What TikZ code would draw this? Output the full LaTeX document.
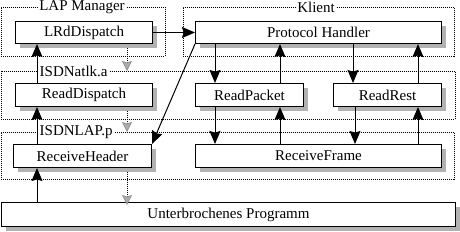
\documentclass[tikz,border=0pt]{standalone}
\usepackage{fontspec}
\setmainfont{Liberation Serif}
\newfontfamily\diagfont{Liberation Serif}
\usetikzlibrary{arrows.meta,shadows}
\begin{document}
\begin{tikzpicture}[x=1pt,y=-1pt,
  every node/.style={font=\diagfont\fontsize{15}{15}\selectfont},
  box/.style={draw,line width=1pt,fill=white,inner sep=0pt,anchor=north west,
    general shadow={fill=gray!60,shadow xshift=4pt,shadow yshift=-4pt}},
  grp/.style={draw,dash pattern=on 1pt off 1pt,line width=0.8pt,inner sep=0pt,anchor=north west},
  glabel/.style={fill=white,inner sep=1.5pt},
  arr/.style={line width=1pt,-{Stealth[length=13pt,width=11pt,inset=1.5pt]}},
  darr/.style={line width=0.8pt,dash pattern=on 1pt off 1pt,-{Stealth[length=10pt,width=10pt,inset=1.5pt,fill=gray!65,color=gray!85]}}]
\useasboundingbox (0,0) rectangle (460,231);
% group boxes
\node[grp,minimum width=164pt,minimum height=49pt] (lapm) at (1,7) {};
\node[grp,minimum width=271pt,minimum height=49pt] (klient) at (183,7) {};
\node[grp,minimum width=454pt,minimum height=48pt] (atlk) at (1,71) {};
\node[grp,minimum width=453pt,minimum height=47pt] (lap) at (1,132) {};
\node[glabel] (lapml) at (82,7) {LAP Manager};
\node[glabel] (klientl) at (316,7) {Klient};
\node[glabel,anchor=west] (atlkl) at (38,71) {ISDNatlk.a};
\node[glabel,anchor=west] (lapl) at (38,132) {ISDNLAP.p};
% boxes
\node[box,minimum width=137pt,minimum height=22pt] (lrd) at (15,21) {LRdDispatch};
\node[box,minimum width=246pt,minimum height=22pt] (ph) at (195,21) {Protocol Handler};
\node[box,minimum width=137pt,minimum height=23pt] (rd) at (15,83) {ReadDispatch};
\node[box,minimum width=108pt,minimum height=23pt] (rp) at (195,83) {ReadPacket};
\node[box,minimum width=108pt,minimum height=23pt] (rr) at (333,83) {ReadRest};
\node[box,minimum width=138pt,minimum height=23pt] (rh) at (13,144) {ReceiveHeader};
\node[box,minimum width=246pt,minimum height=23pt] (rf) at (195,144) {ReceiveFrame};
\node[box,minimum width=454pt,minimum height=24pt] (up) at (1,202) {Unterbrochenes Programm};
% solid arrows
\draw[arr] (lrd.east) -- (ph.west);
\draw[arr] ([xshift=22pt]rd.north west) -- ([xshift=22pt]lrd.south west);
\draw[arr] ([xshift=24pt]rh.north west) -- ([xshift=22pt]rd.south west);
\draw[arr] ([xshift=36pt]up.north west) -- ([xshift=24pt]rh.south west);
\draw[arr] (ph.south west) -- (rh.north east);
\draw[arr] ([xshift=20pt]ph.south west) -- ([xshift=20pt]rp.north west);
\draw[arr] ([xshift=85pt]rp.north west) -- ([xshift=85pt]ph.south west);
\draw[arr] ([xshift=158pt]ph.south west) -- ([xshift=20pt]rr.north west);
\draw[arr] ([xshift=85pt]rr.north west) -- ([xshift=223pt]ph.south west);
\draw[arr] ([xshift=20pt]rp.south west) -- ([xshift=20pt]rf.north west);
\draw[arr] ([xshift=85pt]rf.north west) -- ([xshift=85pt]rp.south west);
\draw[arr] ([xshift=22pt]rr.south west) -- ([xshift=160pt]rf.north west);
\draw[arr] ([xshift=223pt]rf.north west) -- ([xshift=85pt]rr.south west);
% dotted arrows
\draw[darr] ([xshift=112pt,yshift=-4pt]lrd.south west) -- ([xshift=112pt]lrd.south west |- atlk.north);
\draw[darr] ([xshift=112pt,yshift=-4pt]rd.south west) -- ([xshift=112pt]rd.south west |- lap.north);
\draw[darr] ([xshift=114pt,yshift=-4pt]rh.south west) -- ([xshift=114pt,yshift=-3pt]rh.south west |- up.north);
\end{tikzpicture}
\end{document}
